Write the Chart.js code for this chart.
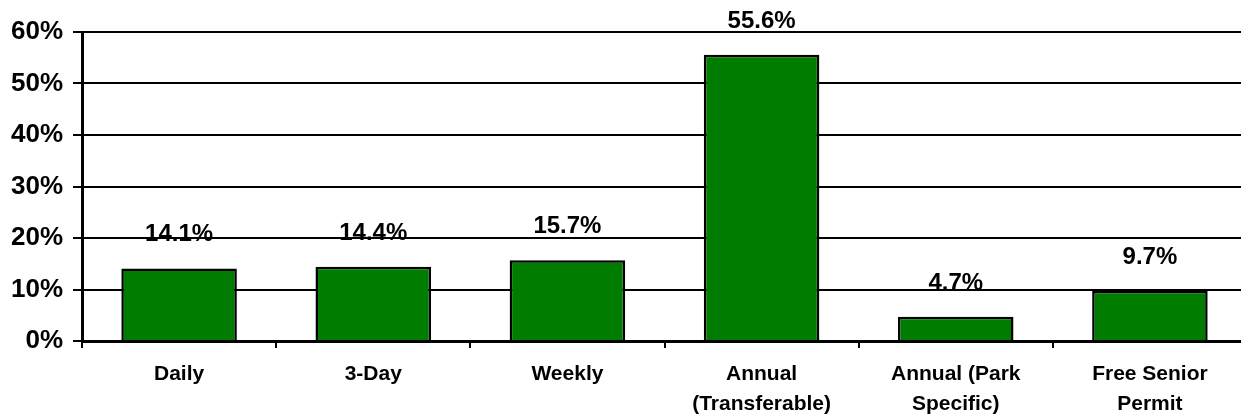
<!DOCTYPE html>
<html>
<head>
<meta charset="utf-8">
<script src="https://cdn.jsdelivr.net/npm/chart.js@4/dist/chart.umd.min.js"></script>
<style>
  html, body { margin: 0; padding: 0; background: #fff; overflow: hidden; }
  #wrap { width: 1247px; height: 414px; }
</style>
</head>
<body>
<div id="wrap"><canvas id="c" width="1247" height="414"></canvas></div>
<script>
const categories = ["Daily", "3-Day", "Weekly", ["Annual", "(Transferable)"], ["Annual (Park", "Specific)"], ["Free Senior", "Permit"]];
const values = [14.1, 14.4, 15.7, 55.6, 4.7, 9.7];
const yTicks = [0, 10, 20, 30, 40, 50, 60];

const FONT = "'Liberation Sans', Arial, sans-serif";

const labelPlugin = {
  id: 'barLabels',
  afterDatasetsDraw(chart) {
    const ctx = chart.ctx;
    const meta = chart.getDatasetMeta(0);
    ctx.save();
    ctx.font = "bold 24px " + FONT;
    ctx.fillStyle = '#000';
    ctx.textAlign = 'center';
    ctx.textBaseline = 'alphabetic';
    meta.data.forEach((bar, i) => {
      ctx.fillText(values[i].toFixed(1) + '%', bar.x, bar.y - 27);
    });
    ctx.restore();
  }
};

new Chart(document.getElementById('c'), {
  type: 'bar',
  data: {
    labels: categories,
    datasets: [{
      data: values,
      backgroundColor: '#007c00',
      borderColor: '#000',
      borderWidth: 2.5,
      barPercentage: 0.595,
      categoryPercentage: 1.0
    }]
  },
  options: {
    responsive: false,
    animation: false,
    layout: { padding: { top: 32, left: 0, right: 0, bottom: 0 } },
    plugins: { legend: { display: false }, tooltip: { enabled: false } },
    scales: {
      x: {
        offset: true,
        grid: { display: true, drawOnChartArea: false, drawTicks: true, tickLength: 7, color: '#000', lineWidth: 2, offset: true },
        border: { display: true, color: '#000', width: 3 },
        ticks: {
          color: '#000',
          padding: 12,
          maxRotation: 0,
          autoSkip: false,
          font: { family: FONT, size: 21, weight: 'bold', lineHeight: 1.4 }
        },
        afterFit(scale) { scale.height = 73; }
      },
      y: {
        min: 0,
        max: 60,
        afterBuildTicks(scale) { scale.ticks = yTicks.map(v => ({ value: v })); },
        grid: { color: '#000', lineWidth: 2, drawTicks: true, tickLength: 9 },
        border: { display: true, color: '#000', width: 3 },
        ticks: {
          color: '#000',
          padding: 10,
          font: { family: FONT, size: 26, weight: 'bold' },
          callback: v => v + '%'
        },
        afterFit(scale) { scale.width = 82; }
      }
    }
  },
  plugins: [labelPlugin]
});
</script>
</body>
</html>
